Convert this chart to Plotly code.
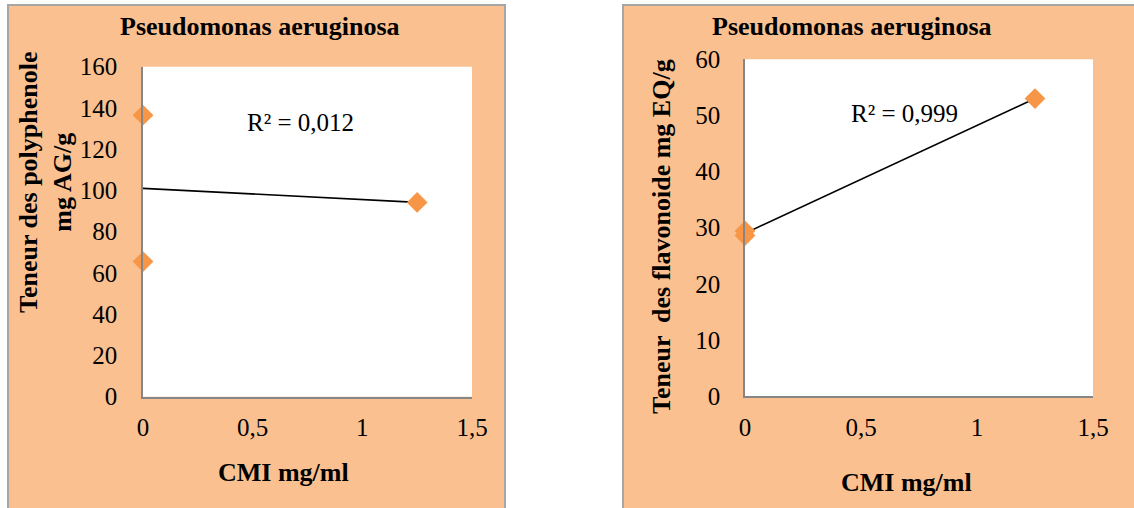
import numpy as np
import plotly.graph_objects as go

# Polyphenol content vs MIC (Pseudomonas aeruginosa)
cmi_poly = [0, 0, 1.25]
polyphenole = [136.5, 65.5, 94.2]

# Flavonoid content vs MIC (Pseudomonas aeruginosa)
cmi_flav = [0, 0, 1.25]
flavonoide = [28.6, 29.4, 53.0]

x_ticks = [0, 0.5, 1, 1.5]
poly_ticks = [0, 20, 40, 60, 80, 100, 120, 140, 160]
flav_ticks = [0, 10, 20, 30, 40, 50, 60]

r2_poly = "R² = 0,012"
r2_flav = "R² = 0,999"
title = "Pseudomonas aeruginosa"
x_title = "CMI mg/ml"
y_title_poly = "Teneur des polyphenole<br>mg AG/g"
y_title_flav = "Teneur \u00a0des flavonoide mg EQ/g"

W, H = 1134, 508
PANEL = "#FAC090"
MARKER = "#F79646"
AXIS = "#868686"
SERIF = "Liberation Serif"


def px(x):
    return x / W


def py(y):
    return 1 - y / H


def trend(xs, ys):
    slope, intercept = np.polyfit(xs, ys, 1)
    xt = np.array([min(xs), max(xs)])
    return xt, slope * xt + intercept


fig = go.Figure()

for xs, ys, xa, ya in [(cmi_poly, polyphenole, "x", "y"), (cmi_flav, flavonoide, "x2", "y2")]:
    xt, yt = trend(xs, ys)
    fig.add_trace(go.Scatter(x=xt, y=yt, mode="lines", line=dict(color="black", width=1.6),
                             xaxis=xa, yaxis=ya, showlegend=False, hoverinfo="skip",
                             cliponaxis=False))
    fig.add_trace(go.Scatter(x=xs, y=ys, mode="markers",
                             marker=dict(symbol="diamond", size=16, color=MARKER,
                                         line=dict(width=0)),
                             xaxis=xa, yaxis=ya, showlegend=False, cliponaxis=False))

axis_common = dict(showgrid=False, zeroline=False, showline=True, linecolor=AXIS,
                   linewidth=1.5, mirror=False, ticks="", automargin=False,
                   tickfont=dict(family=SERIF, size=25, color="black"))

fig.update_layout(
    width=W, height=H,
    autosize=False,
    showlegend=False,
    margin=dict(l=0, r=0, t=0, b=0, pad=0, autoexpand=False),
    paper_bgcolor="white",
    plot_bgcolor="white",
    separators=", ",
    xaxis=dict(domain=[px(143), px(472)], range=[0, 1.5], tickvals=x_ticks,
               anchor="y", ticklabelstandoff=8, **axis_common),
    yaxis=dict(domain=[py(396.7), py(66.7)], range=[0, 160], tickvals=poly_ticks,
               anchor="x", ticklabelstandoff=19, **axis_common),
    xaxis2=dict(domain=[px(745), px(1093)], range=[0, 1.5], tickvals=x_ticks,
                anchor="y2", ticklabelstandoff=8, **axis_common),
    yaxis2=dict(domain=[py(396), py(59.3)], range=[0, 60], tickvals=flav_ticks,
                anchor="x2", ticklabelstandoff=18, **axis_common),
)

# panel backgrounds and white plot areas
shapes = []
for x0, x1 in [(8, 505), (623, 1145)]:
    shapes.append(dict(type="rect", xref="paper", yref="paper",
                       x0=px(x0), x1=px(x1), y0=-0.1, y1=py(5),
                       fillcolor=PANEL, line=dict(color="#A6A6A6", width=2), layer="below"))
for xa, ya in [("x", "y"), ("x2", "y2")]:
    shapes.append(dict(type="rect", xref=f"{xa} domain", yref=f"{ya} domain",
                       x0=0, x1=1, y0=0, y1=1, fillcolor="white",
                       line=dict(width=0), layer="below"))
fig.update_layout(shapes=shapes)

bold = dict(family=SERIF, size=26, color="black")
regular = dict(family=SERIF, size=25, color="black")


def label(text, x, y, font, angle=0):
    fig.add_annotation(text=text, xref="paper", yref="paper", x=px(x), y=py(y),
                       xanchor="center", yanchor="middle", showarrow=False,
                       font=font, textangle=angle)


label(f"<b>{title}</b>", 260, 26, bold)
label(f"<b>{title}</b>", 852, 26, bold)
label(f"<b>{x_title}</b>", 283, 472, bold)
label(f"<b>{x_title}</b>", 906, 482, bold)
label(f"<b>{y_title_poly}</b>", 45, 182, bold, -90)
label(f"<b>{y_title_flav}</b>", 661, 237, bold, -90)
label(r2_poly, 300, 122, regular)
label(r2_flav, 904, 113, regular)

fig.write_html("out.html")
